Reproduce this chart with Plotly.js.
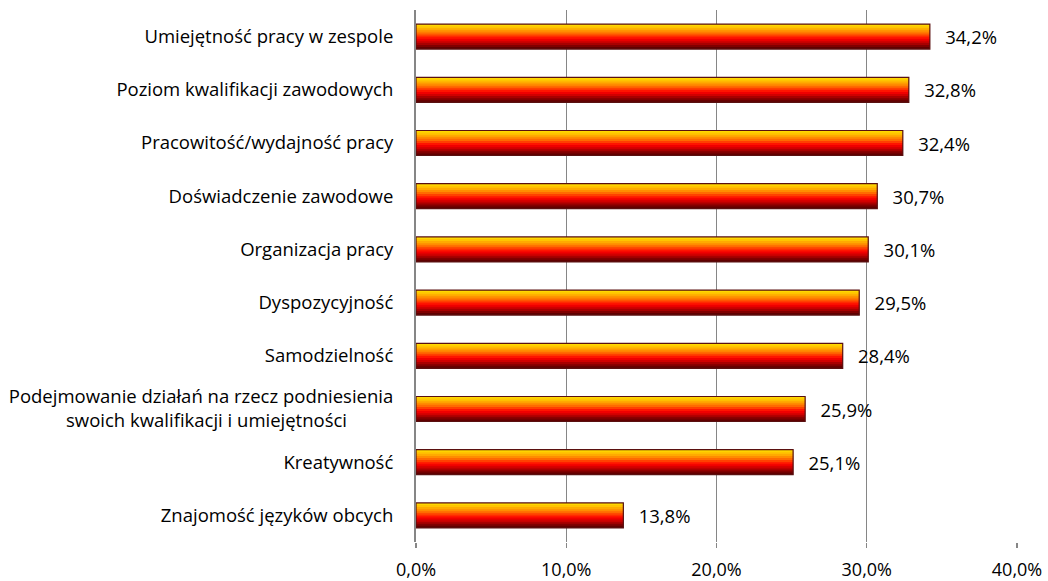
<!DOCTYPE html>
<html>
<head>
<meta charset="utf-8">
<script src="https://cdn.plot.ly/plotly-3.0.1.min.js"></script>
<style>html,body{margin:0;padding:0;background:#fff}#chart{width:1048px;height:581px}</style>
</head>
<body>
<div id="chart"></div>
<script>
const categories = [
  "Umiejętność pracy w zespole",
  "Poziom kwalifikacji zawodowych",
  "Pracowitość/wydajność pracy",
  "Doświadczenie zawodowe",
  "Organizacja pracy",
  "Dyspozycyjność",
  "Samodzielność",
  "Podejmowanie działań na rzecz podniesienia<br>swoich kwalifikacji i umiejętności\u2003\u2003\u2002",
  "Kreatywność",
  "Znajomość języków obcych"
];
const values = [34.2, 32.8, 32.4, 30.7, 30.1, 29.5, 28.4, 25.9, 25.1, 13.8];
const tickVals = [0, 10, 20, 30, 40];
const tickLabels = ["0,0%", "10,0%", "20,0%", "30,0%", "40,0%"];

const labels = values.map(v => "\u2002\u2009" + v.toFixed(1).replace(".", ",") + "%");

const bandColors = ["#FFD800","#FFC400","#FFAA00","#FF8C00","#FF6A00","#FF4000",
                    "#FF1400","#F00000","#D00000","#A80000","#800000","#600000"];
const W = 0.47;
const bw = W / bandColors.length;
const FONT = "'Open Sans', sans-serif";

const traces = bandColors.map((c, i) => ({
  type: "bar", orientation: "h",
  x: values, y: categories,
  width: i === bandColors.length - 1 ? bw : bw * 2, offset: -W / 2 + i * bw,
  marker: {color: c, line: {width: 0}},
  hoverinfo: "skip", showlegend: false
}));
traces.push({
  type: "bar", orientation: "h",
  x: values, y: categories,
  width: W, offset: -W / 2,
  marker: {color: "rgba(0,0,0,0)", line: {color: "#5a1010", width: 1.2}},
  text: labels, textposition: "outside", cliponaxis: false,
  textfont: {family: FONT, size: 18.5, color: "#000"},
  showlegend: false
});

const layout = {
  width: 1048, height: 581,
  margin: {l: 416, r: 31, t: 10, b: 39},
  paper_bgcolor: "#fff", plot_bgcolor: "#fff",
  barmode: "overlay",
  font: {family: FONT, size: 18.5, color: "#000"},
  xaxis: {
    range: [0, 40], tickvals: tickVals, ticktext: tickLabels,
    showgrid: true, gridcolor: "#868686", gridwidth: 1.2,
    zeroline: false, showline: false,
    ticks: "outside", ticklen: 5, tickcolor: "#868686", tickwidth: 1.2,
    ticklabelstandoff: 6,
    tickfont: {family: FONT, size: 18, color: "#000"}, fixedrange: true
  },
  yaxis: {
    type: "category", autorange: "reversed",
    showgrid: false, zeroline: false,
    showline: true, linecolor: "#868686", linewidth: 2,
    ticks: "", ticklabelstandoff: 17,
    tickfont: {family: FONT, size: 18.5, color: "#000"}, fixedrange: true
  }
};

Plotly.newPlot("chart", traces, layout, {displayModeBar: false, staticPlot: true});
</script>
</body>
</html>
